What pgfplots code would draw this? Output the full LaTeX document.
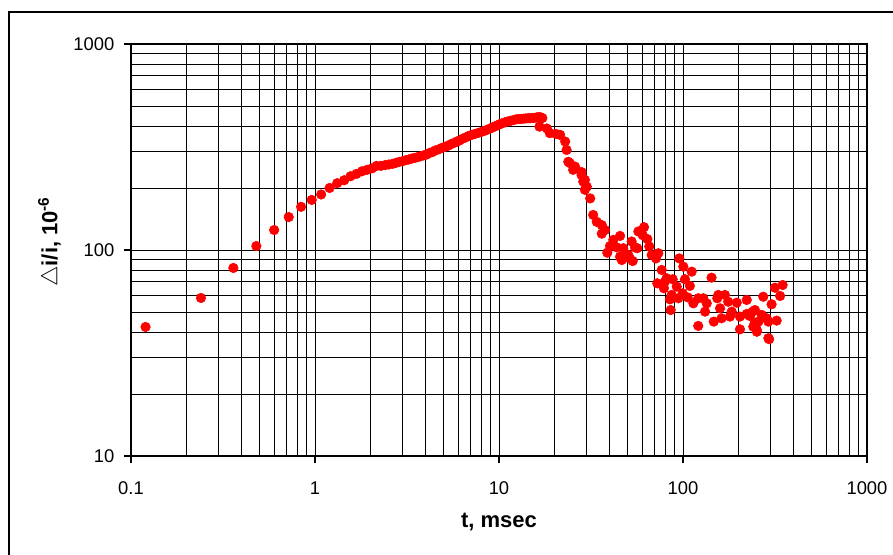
\documentclass[border=0pt]{standalone}
\usepackage{pgfplots}
\pgfplotsset{compat=1.18}
\usepackage{fontspec}
\setmainfont{Liberation Sans}
\begin{document}
\begin{tikzpicture}
\useasboundingbox (0,0) rectangle (669.75pt,416.25pt);
\draw[line width=1.4pt] (6.75pt,-20pt) rectangle (720pt,407.25pt);
\begin{axis}[
  at={(98.25pt,74.25pt)}, anchor=south west,
  scale only axis, width=552pt, height=309pt,
  xmode=log, ymode=log,
  xmin=0.1, xmax=1000, ymin=10, ymax=1000,
  xtick={0.1,1,10,100,1000}, xticklabels={0.1,1,10,100,1000},
  ytick={10,100,1000}, yticklabels={10,100,1000},
  grid=both,
  major grid style={black, line width=0.7pt},
  minor grid style={black, line width=0.6pt},
  axis line style={black, line width=0.9pt},
  tick align=outside, major tick length=5pt, minor tick length=0pt,
  tick style={black, line width=0.8pt},
  xtick pos=bottom, ytick pos=left,
  ticklabel style={font=\fontsize{13.8}{15}\selectfont},
  xticklabel style={yshift=-11pt},
  yticklabel style={xshift=-4pt},
  xlabel={t, msec},
  ylabel={$\triangle$i/i, 10\textsuperscript{-6}},
  label style={font=\fontsize{16.5}{18}\selectfont\bfseries},
  xlabel style={at={(axis description cs:0.5,-0.16)}, anchor=center},
  ylabel style={at={(axis description cs:-0.11,0.52)}, anchor=center},
]
\addplot[only marks, mark=*, mark size=3.6pt, color=red, mark options={draw=red, fill=red}] coordinates {
(0.12,42.3) (0.24,58.5) (0.36,81.8) (0.48,104.5) (0.60,125) (0.72,144.5)
(0.84,162) (0.96,175) (1.08,186) (1.20,200) (1.32,211) (1.44,218)
(1.56,228) (1.68,234) (1.80,241) (1.92,245) (2.04,249) (2.16,256)
(2.28,256) (2.40,258) (2.52,260) (2.64,262) (2.76,265) (2.88,268)
(3.00,270) (3.12,273) (3.24,275) (3.36,278) (3.48,280) (3.60,282)
(3.75,285) (3.90,288) (4.05,291) (4.20,296) (4.35,299) (4.50,304)
(4.70,308) (4.90,313) (5.10,317) (5.30,321) (5.50,327) (5.70,331)
(5.90,336) (6.10,340) (6.35,347) (6.60,352) (6.85,358) (7.10,362)
(7.40,366) (7.70,370) (8.00,374) (8.30,378) (8.60,383) (8.90,388)
(9.20,393) (9.50,398) (9.80,403) (10.1,408) (10.4,412) (10.8,417)
(11.2,421) (11.6,424) (12.0,427) (12.4,431) (12.8,432) (13.2,433)
(13.6,434) (14.0,435) (14.4,436) (14.8,436) (15.2,437) (15.6,438)
(16.0,440) (16.4,441) (16.8,441) (17.2,437) (16.6,397) (18.2,389)
(18.9,369) (20.4,366) (21.5,362) (22.9,336) (23.3,306) (23.8,268)
(24.3,264) (25.3,245) (25.9,254) (28.1,239) (28.1,231) (28.7,215)
(29.3,219) (30.0,203) (29.3,196) (31.3,178) (32.5,148) (34.0,137)
(36.2,132) (37.7,125) (36.2,120) (41.8,112) (45.5,117) (40.1,104.5)
(43.6,103) (38.8,97) (45.5,92.8) (46.5,89.4) (47.4,102) (50.4,94.6)
(51.3,91.2) (53.3,88.4) (52.6,110) (54.8,103) (56.4,102) (57.2,123)
(61.4,129) (60.4,118) (64.0,113) (65.6,104) (67.6,94.6) (73.4,96.4)
(71.3,91.0) (76.6,80) (81.5,72.9) (72.5,68.9) (79.8,70.2) (87.9,72.1)
(78.8,65.2) (92.5,66.4) (109,66.9) (102.5,72.1) (99.6,61.6) (95.5,91)
(100.4,83) (111.5,78.5) (143,73.4) (86.8,60.5) (85.0,57.6) (94.3,58.3)
(85.7,51.1) (106,58.9) (113.8,55.1) (121,58.3) (129,58.3) (134.6,55.1)
(131.8,50.2) (121,42.8) (153.6,58.3) (169,60.5) (155.6,60.5) (176,56.1)
(159,52.1) (196,55.5) (184,50.2) (147,44.9) (162,46.6) (180,47.5)
(204,47.5) (222,57.2) (246,51.1) (222,48.9) (204,41.2) (231,47.8)
(257,44.9) (241,42.4) (252,40.1) (273,59.3) (291,44.9) (291,37.3)
(316,65.6) (348,67.6) (337,59.8) (303,54.5) (239,50.2) (268,48.4)
(285,46.6) (246,44.4) (323,45.4) (252,40.9) (294,36.9)
};
\end{axis}
\end{tikzpicture}
\end{document}
